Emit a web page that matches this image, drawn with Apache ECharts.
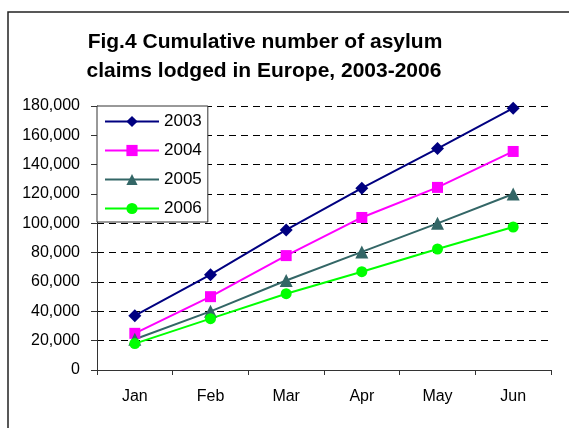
<!DOCTYPE html>
<html lang="en">
<head>
    <meta charset="UTF-8">
    <title>Fig.4 Cumulative number of asylum claims</title>
    <style>
        html, body { margin: 0; padding: 0; background: #fff; }
        #app { width: 569px; height: 428px; }
    </style>
</head>
<body>
    <div id="app"></div>
    <script src="https://cdn.jsdelivr.net/npm/echarts@6/dist/echarts.min.js"></script>
    <script>
        // months on the x axis
        var months = ['Jan', 'Feb', 'Mar', 'Apr', 'May', 'Jun']
        // cumulative claims
        var y2003 = [37000, 65000, 95500, 124000, 151000, 178500]
        var y2004 = [25000, 50000, 78000, 104000, 124500, 149000]
        var y2005 = [21000, 40000, 61000, 80500, 100000, 120000]
        var y2006 = [18000, 35000, 52000, 67000, 82500, 97500]
        var titleLines = ['Fig.4 Cumulative number of asylum', 'claims lodged in Europe, 2003-2006']

        var font = 'Arial, "Liberation Sans", sans-serif'
        var mychart = echarts.init(document.getElementById('app'))

        function line(name, data, color, symbol, size) {
            return {
                name: name,
                type: 'line',
                data: data,
                symbol: symbol,
                symbolSize: size,
                lineStyle: { color: color, width: 2 },
                itemStyle: { color: color },
                animation: false
            }
        }

        var option = {
            animation: false,
            graphic: [
                // outer frame (cut off at right and bottom)
                {
                    type: 'rect',
                    shape: { x: 8, y: 12, width: 600, height: 500 },
                    style: { fill: 'none', stroke: '#222', lineWidth: 1.5 }
                },
                {
                    type: 'text',
                    x: 265, y: 42,
                    style: {
                        text: titleLines[0], textAlign: 'center', textVerticalAlign: 'middle',
                        font: 'bold 21px ' + font, fill: '#000'
                    }
                },
                {
                    type: 'text',
                    x: 264, y: 71,
                    style: {
                        text: titleLines[1], textAlign: 'center', textVerticalAlign: 'middle',
                        font: 'bold 21px ' + font, fill: '#000'
                    }
                }
            ],
            legend: {
                orient: 'vertical',
                left: 97,
                top: 106,
                backgroundColor: '#fff',
                borderColor: '#333',
                borderWidth: 1,
                padding: [7, 6, 5, 7],
                itemWidth: 54,
                itemHeight: 14,
                itemGap: 12,
                textStyle: { fontSize: 17, lineHeight: 16, fontFamily: font, color: '#000' },
                data: ['2003', '2004', '2005', '2006']
            },
            grid: { left: 97, right: 18, top: 106, bottom: 58 },
            xAxis: {
                type: 'category',
                data: months,
                boundaryGap: true,
                axisLine: { lineStyle: { color: '#333', width: 1 } },
                axisTick: { show: true, length: 5, lineStyle: { color: '#333' } },
                axisLabel: { fontSize: 16, fontFamily: font, color: '#000', margin: 19 }
            },
            yAxis: {
                type: 'value',
                min: 0,
                max: 180000,
                interval: 20000,
                axisLine: { show: true, lineStyle: { color: '#333', width: 1 } },
                axisTick: { show: true, length: 6, lineStyle: { color: '#333' } },
                axisLabel: {
                    fontSize: 16, fontFamily: font, color: '#000', margin: 17,
                    formatter: function (v) { return v.toLocaleString('en-US') }
                },
                splitLine: { lineStyle: { color: '#000', type: [7, 5], width: 1 } }
            },
            series: [
                line('2003', y2003, '#000080', 'diamond', 13),
                line('2004', y2004, '#ff00ff', 'rect', 11),
                line('2005', y2005, '#336666', 'triangle', 13),
                line('2006', y2006, '#00ff00', 'circle', 11)
            ]
        }
        mychart.setOption(option)
    </script>
</body>
</html>
